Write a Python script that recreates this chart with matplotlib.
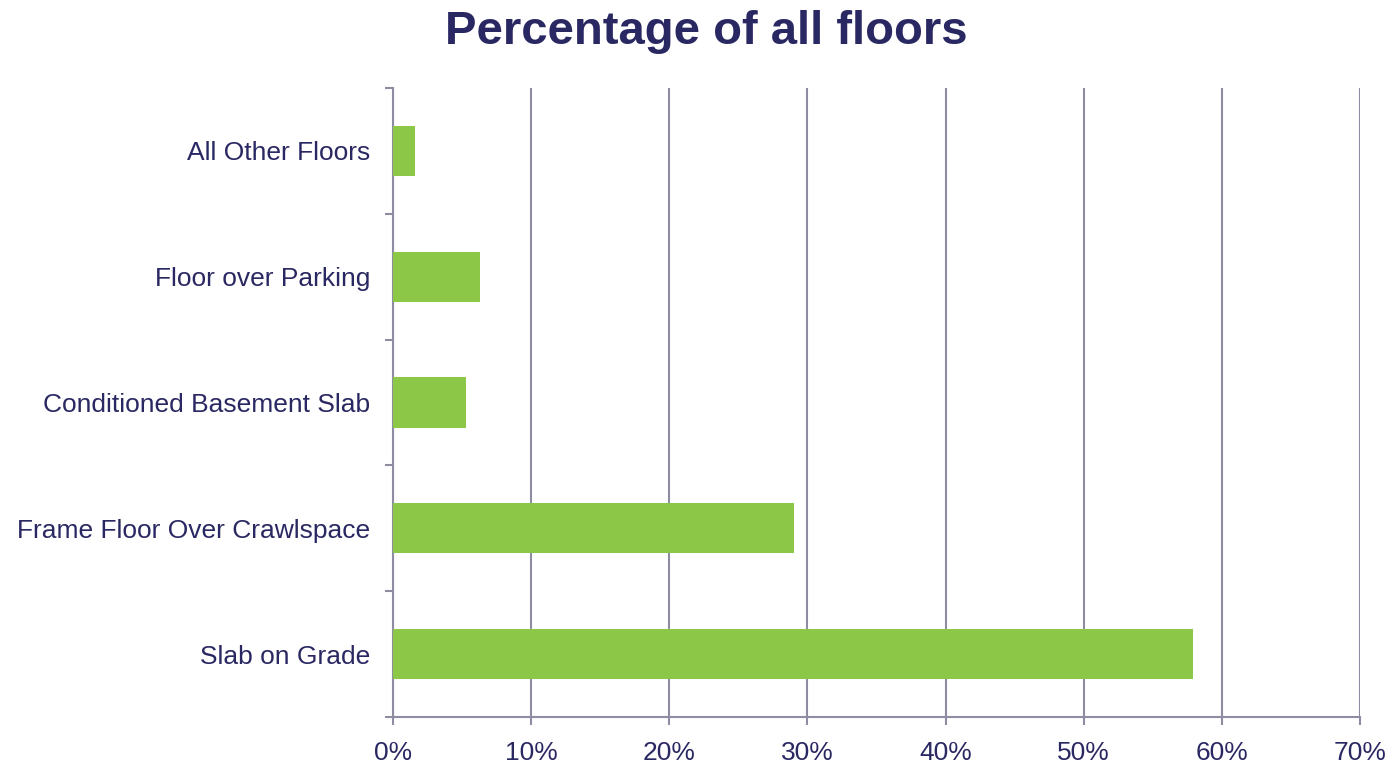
import matplotlib
matplotlib.use("Agg")
import matplotlib.pyplot as plt
from matplotlib.ticker import FuncFormatter, FixedLocator

plt.rcParams["font.family"] = ["Liberation Sans", "DejaVu Sans"]

# Data (top to bottom as displayed)
categories = ["All Other Floors", "Floor over Parking", "Conditioned Basement Slab",
              "Frame Floor Over Crawlspace", "Slab on Grade"]
values = [1.6, 6.3, 5.3, 29.0, 57.9]

NAVY = "#2a2862"
GREEN = "#8cc747"
GRID = "#8e8ca3"

fig = plt.figure(figsize=(13.95, 7.63), dpi=100)
ax = fig.add_axes([0.2817, 0.0603, 0.6932, 0.8244])

n = len(categories)
ypos = list(range(n - 1, -1, -1))
ax.barh(ypos, values, height=0.4, color=GREEN, zorder=3)

ax.set_xlim(0, 70)
ax.set_ylim(-0.5, n - 0.5)
ax.set_xticks(range(0, 71, 10))
ax.xaxis.set_major_formatter(FuncFormatter(lambda x, _: f"{x:.0f}%"))
ax.set_yticks(ypos)
ax.set_yticklabels(categories)
ax.yaxis.set_minor_locator(FixedLocator([i - 0.5 for i in range(n + 1)]))

ax.grid(axis="x", color=GRID, linewidth=1.5, zorder=0)
for s in ["top", "right"]:
    ax.spines[s].set_visible(False)
for s in ["left", "bottom"]:
    ax.spines[s].set_color(GRID)
    ax.spines[s].set_linewidth(1.5)

ax.tick_params(axis="y", which="major", length=0, pad=16.5, labelsize=19, labelcolor=NAVY)
ax.tick_params(axis="y", which="minor", length=6, width=1.5, color=GRID)
ax.tick_params(axis="x", length=6, width=1.5, color=GRID, labelsize=19,
               labelcolor=NAVY, pad=11)

fig.text(0.5065, 0.958, "Percentage of all floors", ha="center", va="center",
         fontsize=34, fontweight="bold", color=NAVY)

fig.savefig("out.png", dpi=100, facecolor="white")
